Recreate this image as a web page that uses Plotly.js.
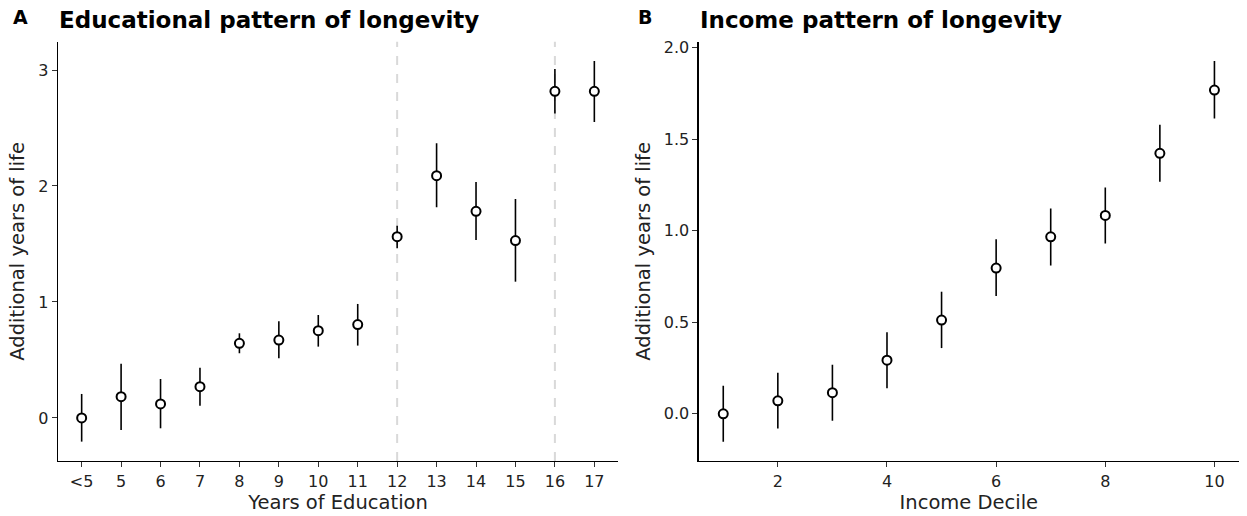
<!DOCTYPE html>
<html>
<head>
<meta charset="utf-8">
<script src="https://cdn.plot.ly/plotly-3.0.1.min.js"></script>
<style>html,body{margin:0;padding:0;background:#fff;}#chart{width:1247px;height:516px;}</style>
</head>
<body>
<div id="chart"></div>
<script>
// Panel A: educational pattern
const eduCategories = ['<5','5','6','7','8','9','10','11','12','13','14','15','16','17'];
const eduValue = [0.000, 0.184, 0.121, 0.270, 0.644, 0.672, 0.753, 0.805, 1.563, 2.089, 1.782, 1.529, 2.816, 2.816];
const eduLower = [-0.204, -0.103, -0.089, 0.106, 0.558, 0.514, 0.615, 0.624, 1.463, 1.816, 1.534, 1.175, 2.626, 2.552];
const eduUpper = [0.207, 0.468, 0.336, 0.434, 0.730, 0.833, 0.888, 0.983, 1.658, 2.368, 2.034, 1.888, 3.009, 3.078];
const eduDashedAt = ['12', '16'];

// Panel B: income pattern
const incDecile = [1, 2, 3, 4, 5, 6, 7, 8, 9, 10];
const incValue = [0.000, 0.071, 0.115, 0.293, 0.512, 0.796, 0.967, 1.084, 1.423, 1.769];
const incLower = [-0.153, -0.080, -0.038, 0.139, 0.359, 0.643, 0.810, 0.931, 1.268, 1.614];
const incUpper = [0.153, 0.224, 0.268, 0.446, 0.667, 0.953, 1.122, 1.237, 1.579, 1.927];

const W = 1247, H = 516;
const font = 'DejaVu Sans, Verdana, sans-serif';

function errY(val, lo, hi) {
  return {
    type: 'data', symmetric: false,
    array: hi.map((h, i) => h - val[i]),
    arrayminus: val.map((v, i) => v - lo[i]),
    color: '#000', thickness: 1.6, width: 0
  };
}
const markerStyle = {symbol: 'circle', size: 9, color: '#fff', line: {color: '#000', width: 2}};

const traces = [
  {x: eduCategories, y: eduValue, type: 'scatter', mode: 'markers', xaxis: 'x', yaxis: 'y',
   error_y: errY(eduValue, eduLower, eduUpper), marker: markerStyle, hoverinfo: 'x+y'},
  {x: incDecile, y: incValue, type: 'scatter', mode: 'markers', xaxis: 'x2', yaxis: 'y2',
   error_y: errY(incValue, incLower, incUpper), marker: markerStyle, hoverinfo: 'x+y'}
];

const yDom = [1 - 461 / H, 1 - 41.7 / H];
const titleFont = {family: font, size: 19.5, color: '#222'};
const axisCommon = {
  showgrid: false, zeroline: false, showline: true, linecolor: '#000', linewidth: 1.3,
  ticks: 'outside', ticklen: 5, tickwidth: 1, tickcolor: '#333',
  tickfont: {family: font, size: 16, color: '#222'}, mirror: false
};

const layout = {
  width: W, height: H,
  margin: {l: 0, r: 0, t: 0, b: 0},
  paper_bgcolor: '#fff', plot_bgcolor: '#fff',
  showlegend: false,
  font: {family: font, color: '#000'},
  xaxis: Object.assign({}, axisCommon, {
    domain: [58 / W, 618 / W], anchor: 'y', type: 'category',
    range: [-0.6, eduCategories.length - 0.4],
    title: {text: 'Years of Education', font: titleFont, standoff: 1}
  }),
  yaxis: Object.assign({}, axisCommon, {
    domain: yDom, anchor: 'x', range: [-0.371, 3.244],
    tickvals: [0, 1, 2, 3], ticktext: ['0', '1', '2', '3'],
    title: {text: 'Additional years of life', font: titleFont, standoff: 8}
  }),
  xaxis2: Object.assign({}, axisCommon, {
    domain: [698.7 / W, 1239 / W], anchor: 'y2', range: [0.55, 10.45],
    tickvals: [2, 4, 6, 8, 10],
    title: {text: 'Income Decile', font: titleFont, standoff: 1}
  }),
  yaxis2: Object.assign({}, axisCommon, {
    domain: yDom, anchor: 'x2', range: [-0.258, 2.033],
    tickvals: [0, 0.5, 1, 1.5, 2], ticktext: ['0.0', '0.5', '1.0', '1.5', '2.0'],
    title: {text: 'Additional years of life', font: titleFont, standoff: 8}
  }),
  shapes: eduDashedAt.map(c => ({
    type: 'line', xref: 'x', yref: 'y domain',
    x0: eduCategories.indexOf(c), x1: eduCategories.indexOf(c), y0: 0, y1: 1,
    line: {color: '#d9d9d9', width: 2, dash: 'dash'}, layer: 'below'
  })),
  annotations: [
    {text: '<b>A</b>', xref: 'paper', yref: 'paper', x: 11 / W, y: 1 - 17 / H, xanchor: 'left', yanchor: 'middle',
     showarrow: false, font: {family: font, size: 19, color: '#000'}},
    {text: '<b>Educational pattern of longevity</b>', xref: 'paper', yref: 'paper', x: 57 / W, y: 1 - 20 / H,
     xanchor: 'left', yanchor: 'middle', showarrow: false, font: {family: font, size: 23, color: '#000'}},
    {text: '<b>B</b>', xref: 'paper', yref: 'paper', x: 636 / W, y: 1 - 17 / H, xanchor: 'left', yanchor: 'middle',
     showarrow: false, font: {family: font, size: 19, color: '#000'}},
    {text: '<b>Income pattern of longevity</b>', xref: 'paper', yref: 'paper', x: 698 / W, y: 1 - 20 / H,
     xanchor: 'left', yanchor: 'middle', showarrow: false, font: {family: font, size: 23, color: '#000'}}
  ]
};

Plotly.newPlot('chart', traces, layout, {displayModeBar: false, staticPlot: true});
</script>
</body>
</html>
